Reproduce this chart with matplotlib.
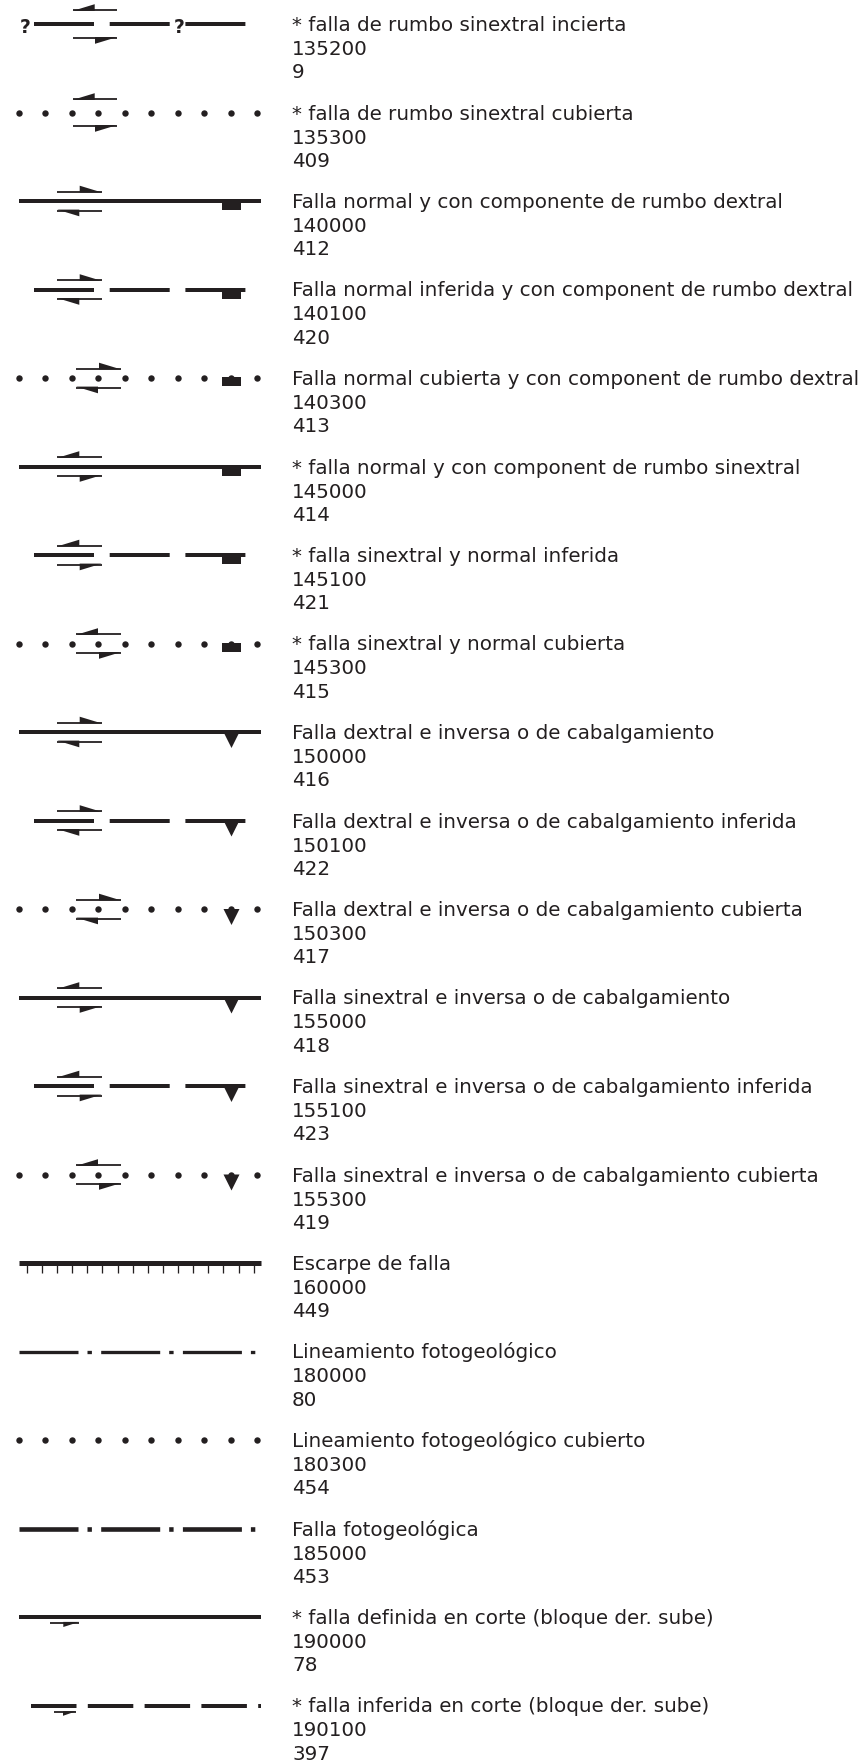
import numpy as np
import matplotlib
matplotlib.use("Agg")
import matplotlib.pyplot as plt
from matplotlib.patches import Polygon, Rectangle

# ---------------- data ----------------
descriptions = [
    "* falla de rumbo sinextral incierta",
    "* falla de rumbo sinextral cubierta",
    "Falla normal y con componente de rumbo dextral",
    "Falla normal inferida y con component de rumbo dextral",
    "Falla normal cubierta y con component de rumbo dextral",
    "* falla normal y con component de rumbo sinextral",
    "* falla sinextral y normal inferida",
    "* falla sinextral y normal cubierta",
    "Falla dextral e inversa o de cabalgamiento",
    "Falla dextral e inversa o de cabalgamiento inferida",
    "Falla dextral e inversa o de cabalgamiento cubierta",
    "Falla sinextral e inversa o de cabalgamiento",
    "Falla sinextral e inversa o de cabalgamiento inferida",
    "Falla sinextral e inversa o de cabalgamiento cubierta",
    "Escarpe de falla",
    "Lineamiento fotogeológico",
    "Lineamiento fotogeológico cubierto",
    "Falla fotogeológica",
    "* falla definida en corte (bloque der. sube)",
    "* falla inferida en corte (bloque der. sube)",
]
codes = ["135200", "135300", "140000", "140100", "140300", "145000", "145100",
         "145300", "150000", "150100", "150300", "155000", "155100", "155300",
         "160000", "180000", "180300", "185000", "190000", "190100"]
ids = ["9", "409", "412", "420", "413", "414", "421", "415", "416", "422",
       "417", "418", "423", "419", "449", "80", "454", "453", "78", "397"]
line_kinds = ["uncertain", "covered", "solid", "inferred", "covered",
              "solid", "inferred", "covered", "solid", "inferred", "covered",
              "solid", "inferred", "covered", "scarp", "lineament",
              "covered", "photofault", "section", "section_inferred"]
senses = ["sin", "sin", "dex", "dex", "dex", "sin", "sin", "sin", "dex", "dex",
          "dex", "sin", "sin", "sin", None, None, None, None, None, None]
marks = [None, None, "box", "box", "box", "box", "box", "box", "tri", "tri",
         "tri", "tri", "tri", "tri", None, None, None, None, None, None]

# ---------------- drawing ----------------
W, H = 868, 1761
INK = "#231f20"
PT = 0.72  # points per pixel at dpi 100
plt.rcParams["lines.scale_dashes"] = False

fig = plt.figure(figsize=(W / 100, H / 100), dpi=100)
ax = fig.add_axes([0, 0, 1, 1])
ax.set_xlim(0, W)
ax.set_ylim(H, 0)
ax.axis("off")

ROW0, ROWSTEP = 24.0, 88.5
FS = 14.3


def hline(x0, x1, y, lw_px, dashes=None):
    ln, = ax.plot([x0, x1], [y, y], color=INK, lw=lw_px * PT,
                  solid_capstyle="butt", dash_capstyle="butt")
    if dashes is not None:
        ln.set_dashes([d * PT for d in dashes])
    return ln


def harpoon(x_tail, x_tip, y, side, L=22, h=5.8):
    # side: -1 barb above, +1 barb below
    hline(min(x_tail, x_tip), max(x_tail, x_tip), y, 1.8)
    d = 1 if x_tip > x_tail else -1
    ax.add_patch(Polygon([(x_tip, y - side * 0.9), (x_tip - d * L, y + side * h),
                          (x_tip - d * L, y - side * 0.9)],
                         closed=True, fc=INK, ec="none"))


def dots(y):
    xs = np.linspace(19, 257.3, 10)
    ax.scatter(xs, np.full_like(xs, y), s=(6.4 * PT) ** 2, color=INK,
               linewidths=0, zorder=3)


def strike_slip_arrows(y, sense, x0, x1, off):
    if sense == "sin":
        harpoon(x1, x0, y - off, -1)
        harpoon(x0, x1, y + off, +1)
    else:
        harpoon(x0, x1, y - off, -1)
        harpoon(x1, x0, y + off, +1)


for i, kind in enumerate(line_kinds):
    y = ROW0 + i * ROWSTEP
    sense = senses[i]
    mark = marks[i]

    if kind == "uncertain":
        hline(34.3, 245.7, y, 4, dashes=(60, 15.7))
        for qx in (25, 179):
            ax.text(qx, y + 9.3, "?", ha="center", va="baseline",
                    fontsize=13.5, fontweight="bold", color=INK,
                    family="DejaVu Sans")
        strike_slip_arrows(y, sense, 72.7, 117, 14)
    elif kind == "covered":
        dots(y)
        if sense is not None:
            if mark is None:
                strike_slip_arrows(y, sense, 72.7, 117, 13.5)
            else:
                strike_slip_arrows(y, sense, 76, 121, 9.5)
    elif kind == "solid":
        hline(19.3, 261, y, 4)
        strike_slip_arrows(y, sense, 57.3, 101.7, 9.5)
    elif kind == "inferred":
        hline(34.3, 245.7, y, 4, dashes=(60, 15.7))
        strike_slip_arrows(y, sense, 57.3, 101.7, 9.5)
    elif kind == "scarp":
        hline(19.3, 261, y, 5)
        ax.vlines(np.linspace(26.7, 253.7, 16), y, y + 10, color=INK,
                  lw=1.3 * PT)
    elif kind == "lineament":
        hline(19.3, 256, y, 3.3, dashes=(59, 9, 4.4, 9.3))
    elif kind == "photofault":
        hline(19.3, 256, y, 4.6, dashes=(59, 9, 4.4, 9.3))
    elif kind == "section":
        hline(19.3, 261, y, 4)
        harpoon(50, 79.3, y + 5.8, +1, L=16, h=4.2)
    elif kind == "section_inferred":
        hline(30.7, 261, y, 4, dashes=(45.5, 11.3))
        harpoon(54, 76, y + 6.7, +1, L=13, h=3.6)

    if mark == "box":
        if kind == "covered":
            ax.add_patch(Rectangle((221.7, y - 0.8), 19, 8.8, fc=INK,
                                   ec="none", zorder=2))
        else:
            ax.add_patch(Rectangle((222, y - 2), 19, 11, fc=INK, ec="none"))
    elif mark == "tri":
        ax.add_patch(Polygon([(223.5, y), (239.5, y), (231.5, y + 16)],
                             closed=True, fc=INK, ec="none", zorder=2))

    # text block
    tx = 292
    ax.text(tx, y + 7.0, descriptions[i], ha="left", va="baseline",
            fontsize=FS, color=INK, family="DejaVu Sans")
    ax.text(tx, y + 31.0, codes[i], ha="left", va="baseline",
            fontsize=FS, color=INK, family="DejaVu Sans")
    ax.text(tx, y + 54.2, ids[i], ha="left", va="baseline",
            fontsize=FS, color=INK, family="DejaVu Sans")

fig.savefig("out.png", dpi=100, facecolor="white")
